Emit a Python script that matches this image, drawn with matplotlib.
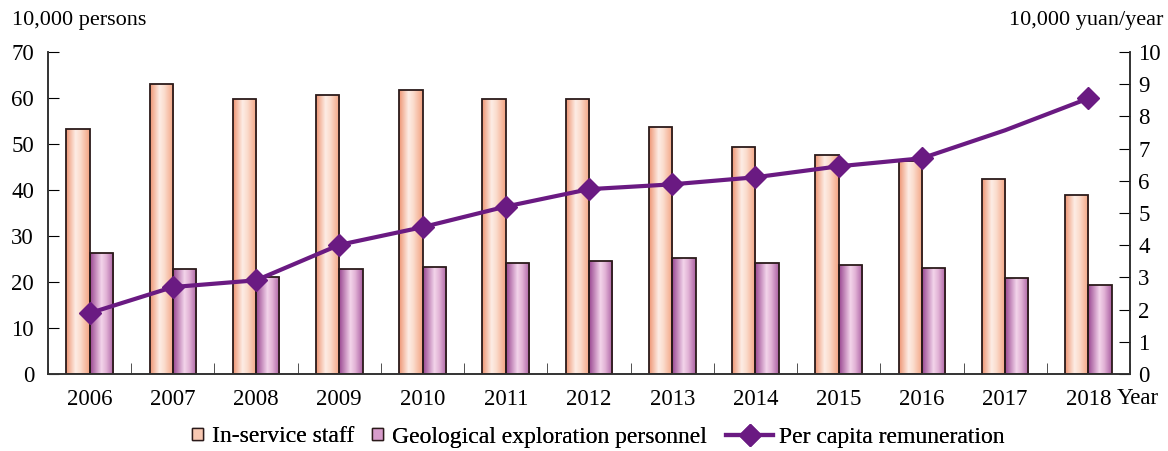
import numpy as np
import matplotlib
matplotlib.use("Agg")
import matplotlib.pyplot as plt
from matplotlib.colors import LinearSegmentedColormap
from matplotlib.lines import Line2D
from matplotlib.patches import Rectangle

# -------- Data --------
years = ["2006", "2007", "2008", "2009", "2010", "2011", "2012",
         "2013", "2014", "2015", "2016", "2017", "2018"]
in_service = [53.3, 63.0, 59.7, 60.7, 61.8, 59.7, 59.7, 53.8, 49.4, 47.7, 46.2, 42.5, 38.9]
geo_staff = [26.4, 22.8, 21.0, 22.8, 23.2, 24.2, 24.6, 25.3, 24.1, 23.6, 23.0, 20.9, 19.3]
remuneration = [1.89, 2.7, 2.91, 4.01, 4.56, 5.2, 5.74, 5.89, 6.11, 6.45, 6.7, 7.57, 8.56]
marker_idx = [0, 1, 2, 3, 4, 5, 6, 7, 8, 9, 10, 12]  # 2017 has no marker

# -------- Style --------
plt.rcParams['font.family'] = ['Liberation Serif', 'DejaVu Serif']
plt.rcParams['font.size'] = 16
line_color = "#6a1a82"
edge_color = "#2b1a1a"
orange_cmap = LinearSegmentedColormap.from_list(
    "org", [(0, "#ee9472"), (0.4, "#fdede5"), (0.6, "#fbdccd"), (1, "#f2a180")])
purple_cmap = LinearSegmentedColormap.from_list(
    "pur", [(0, "#984590"), (0.48, "#f3d4ea"), (0.68, "#e2b3d6"), (1, "#aa5fa2")])

fig = plt.figure(figsize=(11.68, 4.51), dpi=100)
ax = fig.add_axes([48 / 1168, 77 / 451, 1082 / 1168, 322 / 451])
ax2 = ax.twinx()

x = np.arange(len(years))
w = 0.28
gradient = np.linspace(0, 1, 256).reshape(1, -1)


def gradient_bars(xpos, heights, cmap):
    bars = ax.bar(xpos, heights, width=w, facecolor="none", edgecolor=edge_color,
                  linewidth=1.3, zorder=3)
    for b in bars:
        bx, by = b.get_x(), b.get_y()
        bw, bh = b.get_width(), b.get_height()
        im = ax.imshow(gradient, cmap=cmap, aspect="auto",
                       extent=[bx, bx + bw, by, by + bh], zorder=2)
        im.set_clip_path(b)
    return bars


gradient_bars(x - w / 2, in_service, orange_cmap)
gradient_bars(x + w / 2, geo_staff, purple_cmap)

ax.set_xlim(-0.5, len(years) - 0.5)
ax.set_ylim(0, 70)
ax.set_yticks(range(0, 71, 10))
ax.set_xticks(x)
ax.set_xticklabels(years, fontsize=16.5)
ax.set_xticks(np.arange(-0.5, len(years), 1), minor=True)
ax.tick_params(axis="x", which="major", length=0, pad=11)
ax.tick_params(axis="x", which="minor", direction="in", length=8, color="#333333")
ax.tick_params(axis="y", direction="in", length=8, pad=10, labelsize=16.5)

ax2.plot(x, remuneration, color=line_color, lw=3, marker="D", markersize=11,
         markevery=marker_idx, zorder=5)
ax2.set_ylim(0, 10)
ax2.set_yticks(range(0, 11))
ax2.tick_params(axis="y", direction="in", length=8, pad=6, labelsize=16.5)

for a in (ax, ax2):
    a.spines["top"].set_visible(False)
    for s in ("left", "right", "bottom"):
        a.spines[s].set_color("#333333")
        a.spines[s].set_linewidth(1.2)

fig.text(12 / 1168, 1 - 20 / 451, "10,000 persons", va="center", ha="left")
fig.text(1163 / 1168, 1 - 20 / 451, "10,000 yuan/year", va="center", ha="right")
fig.text(1117 / 1168, 1 - 399 / 451, "Year", va="center", ha="left", fontsize=16.5)

# -------- Legend (three pieces, placed like the original) --------
leg_items = [
    (192, Rectangle((0, 0), 1, 1, facecolor="#f8c8b2", edgecolor=edge_color, lw=1),
     "In-service staff", 0.45, 0.4),
    (372, Rectangle((0, 0), 1, 1, facecolor="#d79ccb", edgecolor=edge_color, lw=1),
     "Geological exploration personnel", 0.45, 0.4),
    (726, Line2D([], [], color=line_color, lw=3, marker="D", markersize=11),
     "Per capita remuneration", 2.0, 0.25),
]
for xpix, handle, label, hl, pad in leg_items:
    lg = fig.legend([handle], [label], loc="center left",
                    bbox_to_anchor=(xpix / 1168, 1 - 437 / 451),
                    frameon=False, borderpad=0, borderaxespad=0, fontsize=17,
                    handlelength=hl, handleheight=0.45, handletextpad=pad)
    fig.add_artist(lg)

fig.savefig("out.png", dpi=100)
